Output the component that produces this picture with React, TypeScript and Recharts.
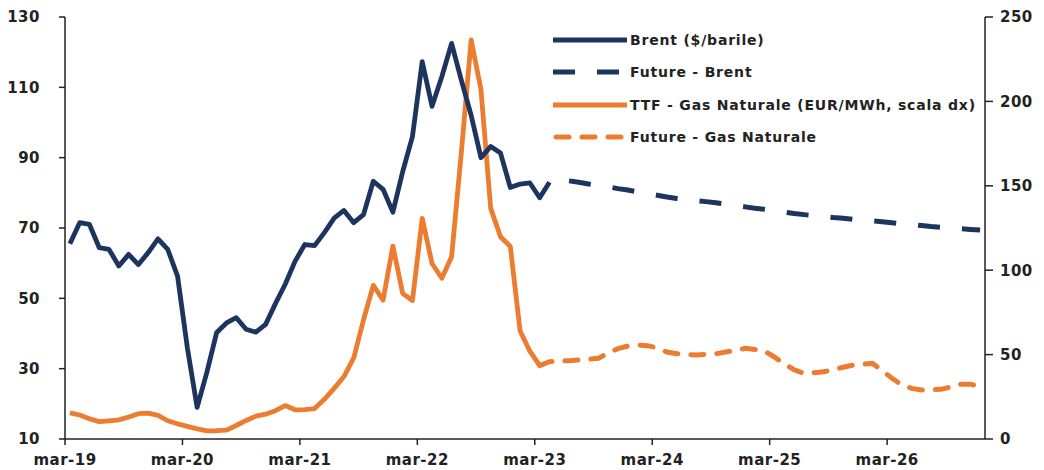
import React from "react";
import { LineChart, Line, XAxis, YAxis } from "recharts";

const NAVY = "#1d355e";
const ORANGE = "#ec7c30";
const FONT = "'DejaVu Sans', Verdana, sans-serif";

// mesi da mar-19, un punto al mese
const monthNames = ["gen", "feb", "mar", "apr", "mag", "giu", "lug", "ago", "set", "ott", "nov", "dic"];
const tickLabels = ["mar-19", "mar-20", "mar-21", "mar-22", "mar-23", "mar-24", "mar-25", "mar-26"];
const leftTicks = [10, 30, 50, 70, 90, 110, 130];
const rightTicks = [0, 50, 100, 150, 200, 250];

// Brent ($/barile), mar-19 .. apr-23
const brent = [
  65.5, 71.5, 71, 64.4, 63.9, 59.2, 62.5, 59.6, 63, 66.9, 63.9, 56.3,
  36, 19, 29, 40.3, 43, 44.5, 41.2, 40.4, 42.6, 48.5, 54, 60.5,
  65.3, 65, 68.7, 72.8, 75, 71.5, 73.8, 83.3, 81, 74.5, 86, 96,
  117.3, 104.6, 113, 122.5, 112, 102, 90, 93.2, 91.3, 81.5, 82.5, 82.8,
  78.6, 83,
];

// Future - Brent, da giu-23
const brentFutureStart = 51;
const brentFuture = [
  83.4, 83.0, 82.5, 82.1, 81.7, 81.2, 80.8, 80.3, 79.8, 79.3, 78.8, 78.4,
  78.1, 77.8, 77.5, 77.2, 76.8, 76.4, 76.0, 75.6, 75.3, 74.9, 74.5, 74.1,
  73.8, 73.5, 73.3, 73.0, 72.8, 72.5, 72.3, 72.0, 71.8, 71.5, 71.2, 71.0,
  70.7, 70.4, 70.2, 70.0, 69.8, 69.6, 69.4,
];

// TTF - Gas Naturale (EUR/MWh), mar-19 .. mar-23
const ttf = [
  15.5, 14.2, 12, 10.3, 10.8, 11.3, 13, 15, 15.3, 14, 10.8, 9,
  7.5, 6, 4.8, 4.9, 5.3, 8, 11, 13.5, 14.7, 16.8, 19.8, 17.3,
  17.4, 18, 23.5, 30, 37, 48, 70.5, 91, 82.3, 114.3, 86.3, 82,
  130.7, 104, 95.2, 108, 170, 236.4, 207, 136.5, 119.8, 114, 64, 52,
  43.5,
];

// Future - Gas Naturale, da mar-23
const ttfFutureStart = 48;
const ttfFuture = [
  43.5, 45.8, 46.2, 46.4, 46.8, 47.2, 47.8, 51, 53.5, 55, 55.7, 55.3,
  54, 51.5, 50.5, 50, 49.8, 50.2, 50.5, 51.5, 52.5, 53.7, 53, 52,
  48.5, 44.5, 41, 38.9, 39.3, 39.8, 41, 42.5, 43.8, 44.3, 44.8, 40.5,
  36, 32, 30, 29, 29.2, 29.4, 30.8, 32.5, 32.5, 31,
];

const N_MONTHS = 94;

const data = Array.from({ length: N_MONTHS }, (_, i) => ({
  month: `${monthNames[(2 + i) % 12]}-${19 + Math.floor((2 + i) / 12)}`,
  t: i + 0.5,
  brent: brent[i] ?? null,
  brentFuture: brentFuture[i - brentFutureStart] ?? null,
  ttf: ttf[i] ?? null,
  ttfFuture: ttfFuture[i - ttfFutureStart] ?? null,
}));

const tickStyle = { fontFamily: FONT, fontSize: 15, fontWeight: 700, fill: "#222", letterSpacing: 0.5 };

const legendItems = [
  { label: "Brent ($/barile)", color: NAVY, dash: undefined, cap: "butt" },
  { label: "Future - Brent", color: NAVY, dash: "22 22", cap: "butt" },
  { label: "TTF - Gas Naturale (EUR/MWh, scala dx)", color: ORANGE, dash: undefined, cap: "butt" },
  { label: "Future - Gas Naturale", color: ORANGE, dash: "13 13", cap: "round" },
];

function ChartLegend() {
  return (
    <div style={{ position: "absolute", left: 553, top: 24 }}>
      {legendItems.map((it) => (
        <div key={it.label} style={{ display: "flex", alignItems: "center", height: 32.3 }}>
          <svg width={76} height={10} style={{ display: "block" }}>
            <line
              x1={it.cap === "round" ? 3 : 0}
              y1={5}
              x2={it.cap === "round" ? 71 : 74}
              y2={5}
              stroke={it.color}
              strokeWidth={5}
              strokeDasharray={it.dash}
              strokeLinecap={it.cap as any}
            />
          </svg>
          <span
            style={{
              fontFamily: FONT,
              fontSize: 14,
              fontWeight: 700,
              color: "#222",
              letterSpacing: 0.8,
              whiteSpace: "nowrap",
              marginLeft: 1,
            }}
          >
            {it.label}
          </span>
        </div>
      ))}
    </div>
  );
}

export default function App() {
  return (
    <div style={{ position: "absolute", left: 0, top: 0, width: 1044, height: 470, background: "#fff" }}>
      <LineChart width={1044} height={470} data={data} margin={{ top: 17, right: 0, bottom: 0, left: 0 }}>
        <XAxis
          dataKey="t"
          type="number"
          domain={[0, N_MONTHS]}
          ticks={tickLabels.map((_, k) => k * 12)}
          tickFormatter={(v) => tickLabels[Math.round(v / 12)]}
          interval={0}
          height={31}
          tick={tickStyle}
          tickSize={6}
          tickMargin={9}
          axisLine={{ stroke: "#222", strokeWidth: 1.5 }}
          tickLine={{ stroke: "#222", strokeWidth: 1.5 }}
        />
        <YAxis
          yAxisId="left"
          domain={[10, 130]}
          ticks={leftTicks}
          interval={0}
          width={65}
          tick={tickStyle}
          tickSize={6}
          tickMargin={19}
          axisLine={{ stroke: "#222", strokeWidth: 1.5 }}
          tickLine={{ stroke: "#222", strokeWidth: 1.5 }}
        />
        <YAxis
          yAxisId="right"
          orientation="right"
          domain={[0, 250]}
          ticks={rightTicks}
          interval={0}
          width={59}
          tick={{ ...tickStyle, textAnchor: "start" }}
          tickSize={8}
          tickMargin={7}
          axisLine={{ stroke: "#222", strokeWidth: 1.5 }}
          tickLine={{ stroke: "#222", strokeWidth: 1.5 }}
        />
        <Line
          yAxisId="right"
          dataKey="ttf"
          stroke={ORANGE}
          strokeWidth={4.8}
          strokeLinejoin="round"
          dot={false}
          activeDot={false}
          isAnimationActive={false}
        />
        <Line
          yAxisId="right"
          dataKey="ttfFuture"
          stroke={ORANGE}
          strokeWidth={5}
          strokeDasharray="13 13"
          strokeLinecap="round"
          dot={false}
          activeDot={false}
          isAnimationActive={false}
        />
        <Line
          yAxisId="left"
          dataKey="brent"
          stroke={NAVY}
          strokeWidth={4.8}
          strokeLinejoin="round"
          dot={false}
          activeDot={false}
          isAnimationActive={false}
        />
        <Line
          yAxisId="left"
          dataKey="brentFuture"
          stroke={NAVY}
          strokeWidth={5}
          strokeDasharray="22 22"
          dot={false}
          activeDot={false}
          isAnimationActive={false}
        />
      </LineChart>
      <ChartLegend />
    </div>
  );
}
